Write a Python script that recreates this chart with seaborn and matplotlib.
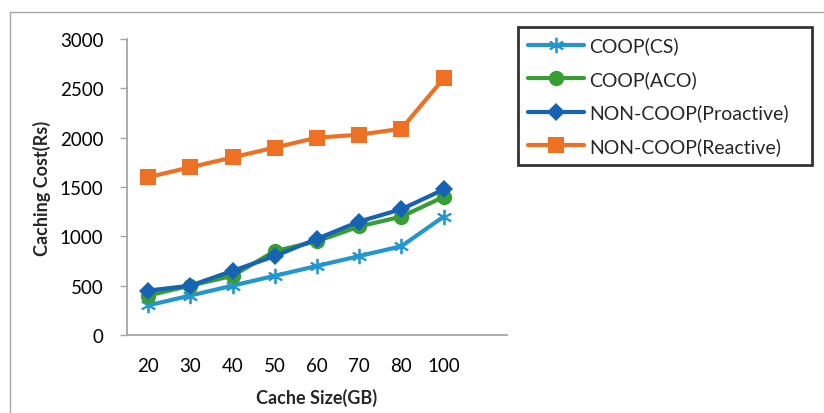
import matplotlib
matplotlib.use("Agg")
import matplotlib.pyplot as plt
import seaborn as sns
import pandas as pd
from matplotlib.patches import Rectangle

cache_sizes = ["20", "30", "40", "50", "60", "70", "80", "100"]
coop_cs = [300, 400, 500, 600, 700, 800, 900, 1200]
coop_aco = [400, 500, 600, 850, 950, 1100, 1200, 1400]
noncoop_pro = [450, 500, 650, 800, 975, 1150, 1275, 1475]
noncoop_re = [1600, 1700, 1800, 1900, 2000, 2030, 2090, 2600]
series_names = ["COOP(CS)", "COOP(ACO)", "NON-COOP(Proactive)", "NON-COOP(Reactive)"]
yticks = [0, 500, 1000, 1500, 2000, 2500, 3000]

sns.set_theme(style="white")
plt.rcParams["font.family"] = ["Lato", "DejaVu Sans"]

fig = plt.figure(figsize=(8.24, 4.14), dpi=100)
ax = fig.add_axes([127/824, 1-336/414, (507-127)/824, (336-40)/414])

colors = ["#2196D0", "#389E34", "#1763B3", "#EE7123"]
markers = [(6, 2, 0), "o", "D", "s"]
msizes = [11, 11, 9.5, 11]
data = [coop_cs, coop_aco, noncoop_pro, noncoop_re]

for name, vals, c, m, ms in zip(series_names, data, colors, markers, msizes):
    df = pd.DataFrame({"size": cache_sizes, "cost": vals})
    sns.lineplot(data=df, x=list(range(len(cache_sizes))), y="cost", ax=ax,
                 color=c, marker=m, markersize=ms, linewidth=3,
                 markeredgewidth=1.3 if m == (6, 2, 0) else 0,
                 markeredgecolor=c, label=name)

ax.set_xlim(-0.5, 8.5)
ax.set_ylim(0, 3000)
ax.set_xticks(range(len(cache_sizes)))
ax.set_xticklabels(cache_sizes)
ax.set_yticks(yticks)
ax.set_yticklabels([str(v) for v in yticks])
ax.tick_params(axis="y", length=5, width=1, color="#a6a6a6", direction="out",
               pad=12, labelsize=13.5, left=True)
ax.tick_params(axis="x", length=0, pad=16, labelsize=13.5)
for t in ax.get_xticklabels() + ax.get_yticklabels():
    t.set_color("#000000")
for s in ["top", "right"]:
    ax.spines[s].set_visible(False)
for s in ["left", "bottom"]:
    ax.spines[s].set_color("#a6a6a6")
    ax.spines[s].set_linewidth(1.3)
ax.grid(False)
ax.set_facecolor("white")

ax.set_xlabel("Cache Size(GB)", fontsize=13, fontweight="bold", labelpad=10)
ax.set_ylabel("Caching Cost(Rs)", fontsize=13, fontweight="bold", labelpad=6)

leg = ax.legend(loc="upper left",
                bbox_to_anchor=(518/824, 1-165/414, 294/824, 137/414),
                bbox_transform=fig.transFigure, mode="expand", fontsize=14,
                frameon=True, fancybox=False, handlelength=2.9,
                handletextpad=0.25, labelspacing=0.8, borderpad=0.5,
                borderaxespad=0)
leg.get_frame().set_edgecolor("black")
leg.get_frame().set_linewidth(2)

fig.patches.append(Rectangle((10/824, -0.1), 2, 1-13/414+0.1, transform=fig.transFigure,
                             fill=False, edgecolor="#a6a6a6", linewidth=1))

fig.savefig("out.png", dpi=100)
